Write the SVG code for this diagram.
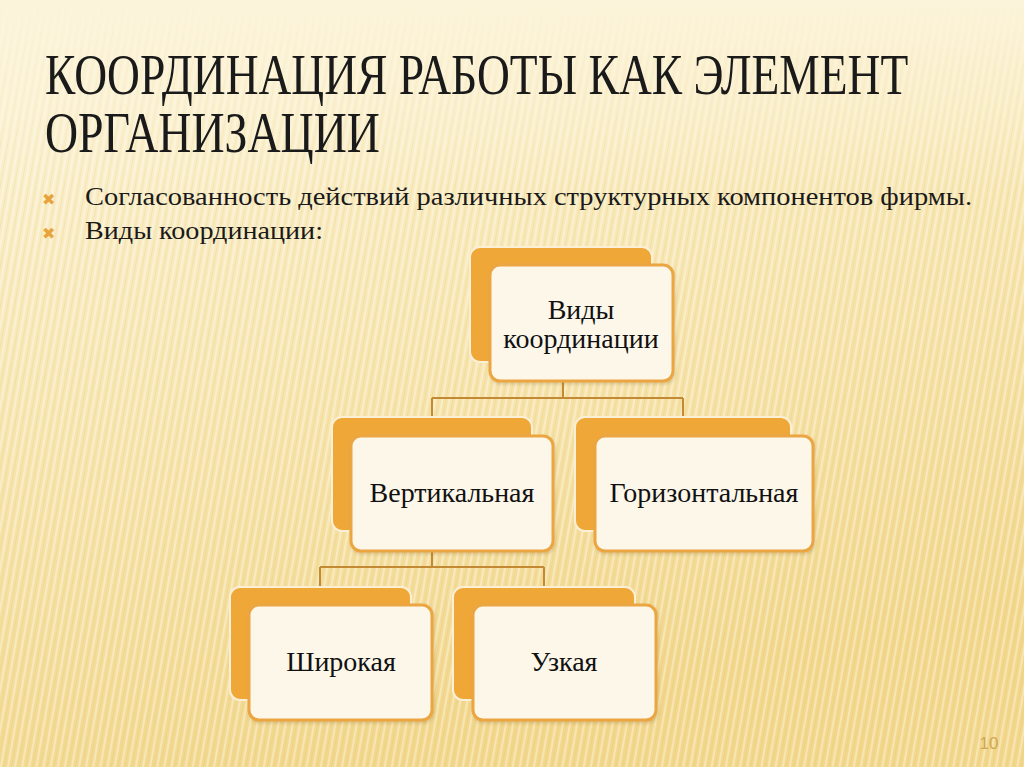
<svg xmlns="http://www.w3.org/2000/svg" width="1024" height="767" viewBox="0 0 1024 767">
<defs>
<linearGradient id="bg" x1="0" y1="0" x2="0.3" y2="1">
<stop offset="0" stop-color="#FCF4DA"/>
<stop offset="0.45" stop-color="#F8E8B6"/>
<stop offset="1" stop-color="#F2D78C"/>
</linearGradient>
<pattern id="stripes" width="7" height="40" patternUnits="userSpaceOnUse" patternTransform="rotate(10)">
<rect x="0" y="0" width="2" height="40" fill="#FFFFFF" opacity="0.35"/>
<rect x="4" y="0" width="1" height="40" fill="#D9B666" opacity="0.18"/>
</pattern>
<linearGradient id="fade" x1="0" y1="0" x2="0" y2="1">
<stop offset="0" stop-color="#FCF4DA" stop-opacity="1"/>
<stop offset="0.3" stop-color="#FCF4DA" stop-opacity="0.6"/>
<stop offset="1" stop-color="#FCF4DA" stop-opacity="0"/>
</linearGradient>
<linearGradient id="rule" x1="0" y1="0" x2="1" y2="0">
<stop offset="0" stop-color="#E3A03A"/>
<stop offset="1" stop-color="#EDB560"/>
</linearGradient>
<filter id="sh" x="-10%" y="-10%" width="130%" height="130%">
<feDropShadow dx="1" dy="2" stdDeviation="1.5" flood-color="#8a6a2a" flood-opacity="0.25"/>
</filter>
</defs>
<style>
.back{fill:#EFA838;stroke:#FBF0D6;stroke-width:2}
.front{fill:#FDF7EA;stroke:#EBA642;stroke-width:3}
.lbl{font-family:"Liberation Serif",serif;font-size:28px;fill:#111;text-anchor:middle}
.conn{fill:none;stroke:#C48A33;stroke-width:2}
.title{font-family:"Liberation Serif",serif;font-size:58px;fill:#1a1a1a}
.body{font-family:"Liberation Serif",serif;font-size:25px;fill:#1a1a1a}
.bul{font-family:"DejaVu Sans",sans-serif;font-size:16px;fill:#E9A33B;font-weight:bold}
</style>
<rect width="1024" height="767" fill="url(#bg)"/>
<rect width="1024" height="767" fill="url(#stripes)"/>
<rect width="1024" height="190" fill="url(#fade)"/>
<line x1="40" y1="117" x2="1024" y2="117" stroke="url(#rule)" stroke-width="3"/>
<g id="title">
<text class="title" transform="translate(45,94) scale(0.77,1)" x="0" y="0" textLength="1121" lengthAdjust="spacingAndGlyphs">КООРДИНАЦИЯ РАБОТЫ КАК ЭЛЕМЕНТ</text>
<text class="title" transform="translate(45,152) scale(0.77,1)" x="0" y="0" textLength="435" lengthAdjust="spacingAndGlyphs">ОРГАНИЗАЦИИ</text>
</g>
<g id="bullets">
<text class="bul" x="42" y="205">✖</text>
<text class="body" x="85" y="205" textLength="887" lengthAdjust="spacingAndGlyphs">Согласованность действий различных структурных компонентов фирмы.</text>
<text class="bul" x="42" y="239">✖</text>
<text class="body" x="85" y="239" textLength="238" lengthAdjust="spacingAndGlyphs">Виды координации:</text>
</g>
<g id="connectors">
<path class="conn" d="M563 381 V398 M432 398 H683 M432 398 V418 M683 398 V418"/>
<path class="conn" d="M432 551 V567 M320 567 H544 M320 567 V588 M544 567 V588"/>
</g>
<g id="node-root">
<rect class="back" x="470" y="247" width="182" height="115" rx="10"/>
<rect class="front" x="490" y="265" width="183" height="116" rx="10" filter="url(#sh)"/>
<text class="lbl" x="581" y="319">Виды</text>
<text class="lbl" x="581" y="348">координации</text>
</g>
<g id="node-vertical">
<rect class="back" x="332" y="417" width="200" height="114" rx="10"/>
<rect class="front" x="351" y="436" width="202" height="115" rx="10" filter="url(#sh)"/>
<text class="lbl" x="452" y="502">Вертикальная</text>
</g>
<g id="node-horizontal">
<rect class="back" x="575" y="417" width="216" height="114" rx="10"/>
<rect class="front" x="595" y="436" width="218" height="115" rx="10" filter="url(#sh)"/>
<text class="lbl" x="704" y="502">Горизонтальная</text>
</g>
<g id="node-wide">
<rect class="back" x="230" y="587" width="181" height="113" rx="10"/>
<rect class="front" x="249" y="605" width="183" height="115" rx="10" filter="url(#sh)"/>
<text class="lbl" x="341" y="671">Широкая</text>
</g>
<g id="node-narrow">
<rect class="back" x="453" y="587" width="182" height="113" rx="10"/>
<rect class="front" x="473" y="605" width="183" height="115" rx="10" filter="url(#sh)"/>
<text class="lbl" x="564" y="671">Узкая</text>
</g>
<text x="989" y="749" font-family="Liberation Sans, sans-serif" font-size="17" fill="#D0A853" text-anchor="middle">10</text>
</svg>
